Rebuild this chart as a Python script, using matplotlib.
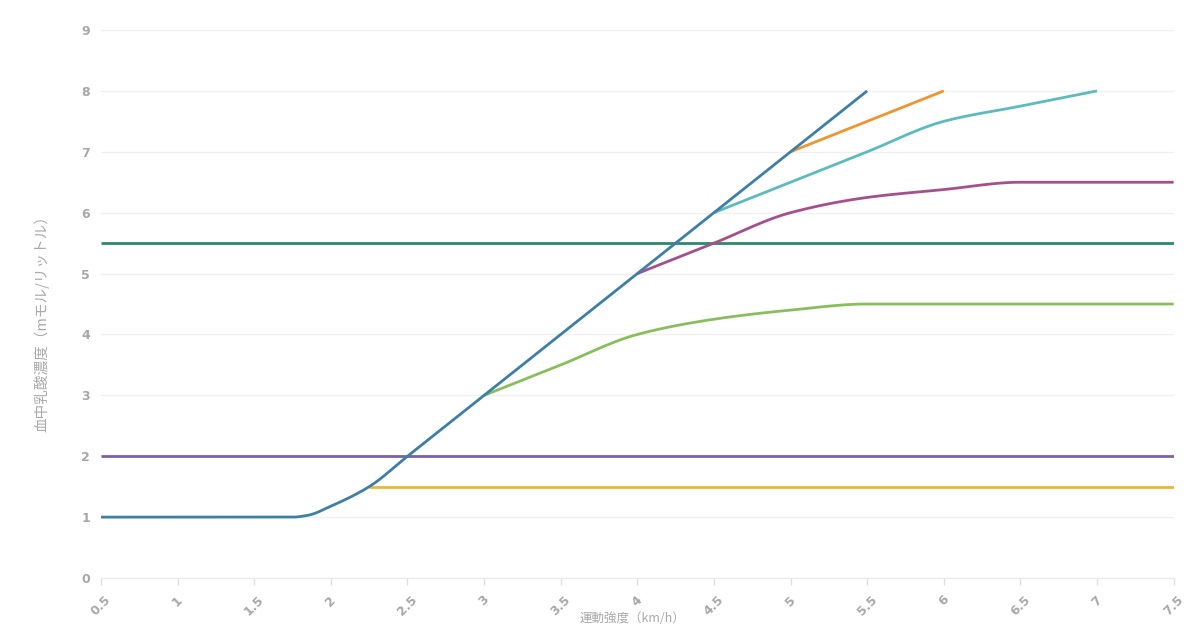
import numpy as np
import matplotlib
matplotlib.use("Agg")
import matplotlib.pyplot as plt

plt.rcParams['font.family'] = ['Noto Sans CJK JP', 'DejaVu Sans']

# ---- data ----
blue_x = [0.5, 1.0, 1.5, 1.75, 1.85, 2.0, 2.25, 2.5, 3.0, 3.5, 4.0, 4.5, 5.0, 5.5]
blue_y = [1.0, 1.0, 1.0, 1.0, 1.03, 1.18, 1.5, 2.0, 3.0, 4.0, 5.0, 6.0, 7.0, 8.0]
orange_x = [5.0, 6.0]
orange_y = [7.0, 8.0]
teal_x = [4.5, 5.0, 5.5, 6.0, 6.5, 7.0]
teal_y = [6.0, 6.5, 7.0, 7.5, 7.75, 8.0]
magenta_x = [4.0, 4.5, 5.0, 5.5, 6.0, 6.5, 7.0, 7.5]
magenta_y = [5.0, 5.5, 6.0, 6.25, 6.38, 6.5, 6.5, 6.5]
green_x = [3.0, 3.5, 4.0, 4.5, 5.0, 5.5, 6.0, 7.5]
green_y = [3.0, 3.5, 4.0, 4.25, 4.4, 4.5, 4.5, 4.5]
dkgreen_x = [0.5, 7.5]
dkgreen_y = [5.5, 5.5]
purple_x = [0.5, 7.5]
purple_y = [2.0, 2.0]
yellow_x = [2.25, 7.5]
yellow_y = [1.5, 1.5]

x_ticks = [0.5, 1, 1.5, 2, 2.5, 3, 3.5, 4, 4.5, 5, 5.5, 6, 6.5, 7, 7.5]
x_tick_labels = ['0.5', '1', '1.5', '2', '2.5', '3', '3.5', '4', '4.5', '5', '5.5', '6', '6.5', '7', '7.5']
y_ticks = [0, 1, 2, 3, 4, 5, 6, 7, 8, 9]
y_label = '血中乳酸濃度（mモル/リットル）'
x_label = '運動強度（km/h）'


def smooth(xs, ys, n=16):
    """Monotone cubic (Fritsch-Carlson) rendering through the points (drawing only)."""
    xs = np.asarray(xs, float); ys = np.asarray(ys, float)
    if len(xs) < 3:
        return xs, ys
    h = np.diff(xs); d = np.diff(ys) / h
    m = np.zeros_like(ys)
    m[0] = d[0]; m[-1] = d[-1]
    for i in range(1, len(xs) - 1):
        if d[i - 1] * d[i] <= 0:
            m[i] = 0.0
        else:
            w1 = 2 * h[i] + h[i - 1]; w2 = h[i] + 2 * h[i - 1]
            m[i] = (w1 + w2) / (w1 / d[i - 1] + w2 / d[i])
    ox, oy = [], []
    for i in range(len(xs) - 1):
        s = np.linspace(0, 1, n, endpoint=False)
        h00 = 2*s**3 - 3*s**2 + 1; h10 = s**3 - 2*s**2 + s
        h01 = -2*s**3 + 3*s**2; h11 = s**3 - s**2
        ox.extend(xs[i] + s * h[i])
        oy.extend(h00 * ys[i] + h10 * h[i] * m[i] + h01 * ys[i + 1] + h11 * h[i] * m[i + 1])
    ox.append(xs[-1]); oy.append(ys[-1])
    return np.array(ox), np.array(oy)


fig = plt.figure(figsize=(12, 6.28), dpi=100)
ax = fig.add_axes([0.0842, 0.0796, 0.8938, 0.8726])

lw = 2.0
series = [
    (dkgreen_x, dkgreen_y, '#2b8a6a'),
    (purple_x, purple_y, '#7d62a6'),
    (yellow_x, yellow_y, '#f3b52f'),
    (green_x, green_y, '#88bf5c'),
    (magenta_x, magenta_y, '#a5508a'),
    (teal_x, teal_y, '#5bbbbd'),
    (orange_x, orange_y, '#ee9530'),
    (blue_x, blue_y, '#3d7fa6'),
]
for xs, ys, c in series:
    sx, sy = smooth(xs, ys)
    ax.plot(sx, sy, color=c, lw=lw, solid_capstyle='butt', zorder=3)

ax.set_xlim(0.5, 7.5)
ax.set_ylim(0, 9)
ax.set_xticks(x_ticks)
ax.set_xticklabels(x_tick_labels, rotation=45, ha='center', va='top')
ax.set_yticks(y_ticks)
ax.grid(axis='y', color='#f0f0f0', lw=1, zorder=0)
ax.grid(axis='x', visible=False)
for s in ['top', 'right', 'left']:
    ax.spines[s].set_visible(False)
ax.spines['bottom'].set_color('#ebebeb')
ax.tick_params(axis='x', colors='#e0e0e0', length=5, width=1, labelcolor='#a8a8a8',
               labelsize=9, pad=6)
ax.tick_params(axis='y', length=0, labelcolor='#a8a8a8', labelsize=9, pad=8)
for lab in ax.get_xticklabels() + ax.get_yticklabels():
    lab.set_fontweight('bold')
    lab.set_family(['DejaVu Sans'])

fig.text(42 / 1200, 1 - 320 / 628, y_label, rotation=90, ha='center', va='center',
         color='#aaaaaa', fontsize=10.5)
fig.text(632 / 1200, 1 - 619 / 628, x_label, ha='center', va='center',
         color='#aaaaaa', fontsize=9)

fig.savefig('out.png', dpi=100)
